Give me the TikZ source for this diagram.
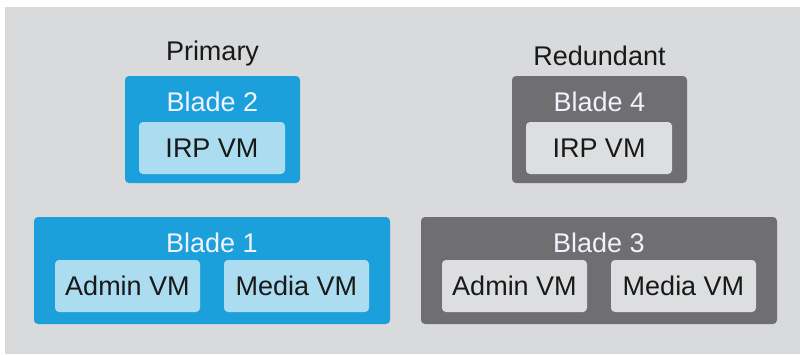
\documentclass[tikz,border=0pt]{standalone}
\usepackage{fontspec}
\setmainfont{Liberation Sans}
\usetikzlibrary{positioning}
\definecolor{panelgray}{HTML}{D9DADC}
\definecolor{primblue}{HTML}{1BA0DC}
\definecolor{primlight}{HTML}{ABDCEF}
\definecolor{redgray}{HTML}{6F6F71}
\definecolor{redlight}{HTML}{DDDEE0}

\begin{document}
\begin{tikzpicture}[x=1pt, y=-1pt,
node distance=0pt,
  blade/.style = {rectangle, rounded corners=4pt,% outer blade boxes
                  minimum height=107pt, inner sep=0pt, outer sep=0pt},
     vm/.style = {rectangle, rounded corners=4pt,% VM boxes inside a blade
                  minimum width=145pt, minimum height=52pt,
                  inner sep=0pt, outer sep=0pt, text=black!90,
                  font=\fontsize{27}{32}\selectfont},
  title/.style = {inner sep=0pt, text=white!95!blue,
                  font=\fontsize{27}{32}\selectfont},
 header/.style = {inner sep=0pt, text=black!90,
                  font=\fontsize{27}{32}\selectfont},
                        ]
\useasboundingbox (0,0) rectangle (800,354);
\fill[panelgray] (5,7) rectangle (800,354);
\foreach \x/\top/\bot/\dark/\light/\head in {212/2/1/primblue/primlight/Primary,
                                           599/4/3/redgray/redlight/Redundant}
{
% upper blade
\node[blade, fill=\dark, minimum width=175pt] (b\top) at (\x+0.5,129.5) {};
\node[header, above=10pt of b\top.north] (h\top) {\head};
\node[title, below=16pt of b\top.north] (t\top) {Blade \top};
\node[vm, fill=\light, minimum width=146pt,
      below right=46pt and 14pt of b\top.north west] (irp\top) {IRP VM};
% lower blade
\node[blade, fill=\dark, minimum width=356pt] (b\bot) at (\x,270.5) {};
\node[title, below=16pt of b\bot.north] (t\bot) {Blade \bot};
\node[vm, fill=\light, below right=43pt and 21pt of b\bot.north west] (admin\bot) {Admin VM};
\node[vm, fill=\light, right=24pt of admin\bot] (media\bot) {Media VM};
}
\end{tikzpicture}
\end{document}
